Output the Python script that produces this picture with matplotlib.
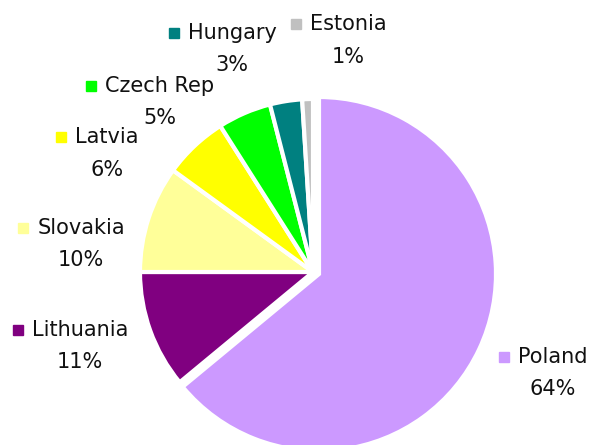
import matplotlib
matplotlib.use("Agg")
import matplotlib.pyplot as plt

countries = ["Poland", "Lithuania", "Slovakia", "Latvia", "Czech Rep", "Hungary", "Estonia"]
shares = [64, 11, 10, 6, 5, 3, 1]
colors = ["#CC99FF", "#800080", "#FFFF99", "#FFFF00", "#00FF00", "#008080", "#C0C0C0"]

# label anchors in pixels (name centre x, name y, percent y)
label_pos = {
    "Poland": (553, 357, 389),
    "Lithuania": (80, 330, 362),
    "Slovakia": (81, 228, 260),
    "Latvia": (107, 137, 170),
    "Czech Rep": (160, 86, 118),
    "Hungary": (232, 33, 65),
    "Estonia": (348, 24, 57),
}

W, H = 592, 445
plt.rcParams['font.family'] = ['DejaVu Sans']
fig = plt.figure(figsize=(W / 100, H / 100), dpi=100)
ax = fig.add_axes([0, 0, 1, 1])

wedges, _ = ax.pie(shares, colors=colors, startangle=90, counterclock=False,
                   center=(313, H - 272), radius=173,
                   wedgeprops=dict(edgecolor="white", linewidth=3))
# pulled-out Poland slice
wedges[0].set_center((319, H - 274))
wedges[0].set_radius(177)
ax.set_xlim(0, W)
ax.set_ylim(0, H)
ax.set_aspect('equal')
ax.axis('off')

fig.canvas.draw()
r = fig.canvas.get_renderer()
for name, val, col in zip(countries, shares, colors):
    cx, ny, py = label_pos[name]
    t = ax.text(cx, H - ny, name, ha='center', va='center', fontsize=15, color='#111111')
    ax.text(cx, H - py, f"{val}%", ha='center', va='center', fontsize=15, color='#111111')
    bb = t.get_window_extent(renderer=r)
    ax.plot(bb.x0 - 14, H - ny, marker='s', markersize=7, color=col, clip_on=False)

fig.savefig("out.png", dpi=100)
